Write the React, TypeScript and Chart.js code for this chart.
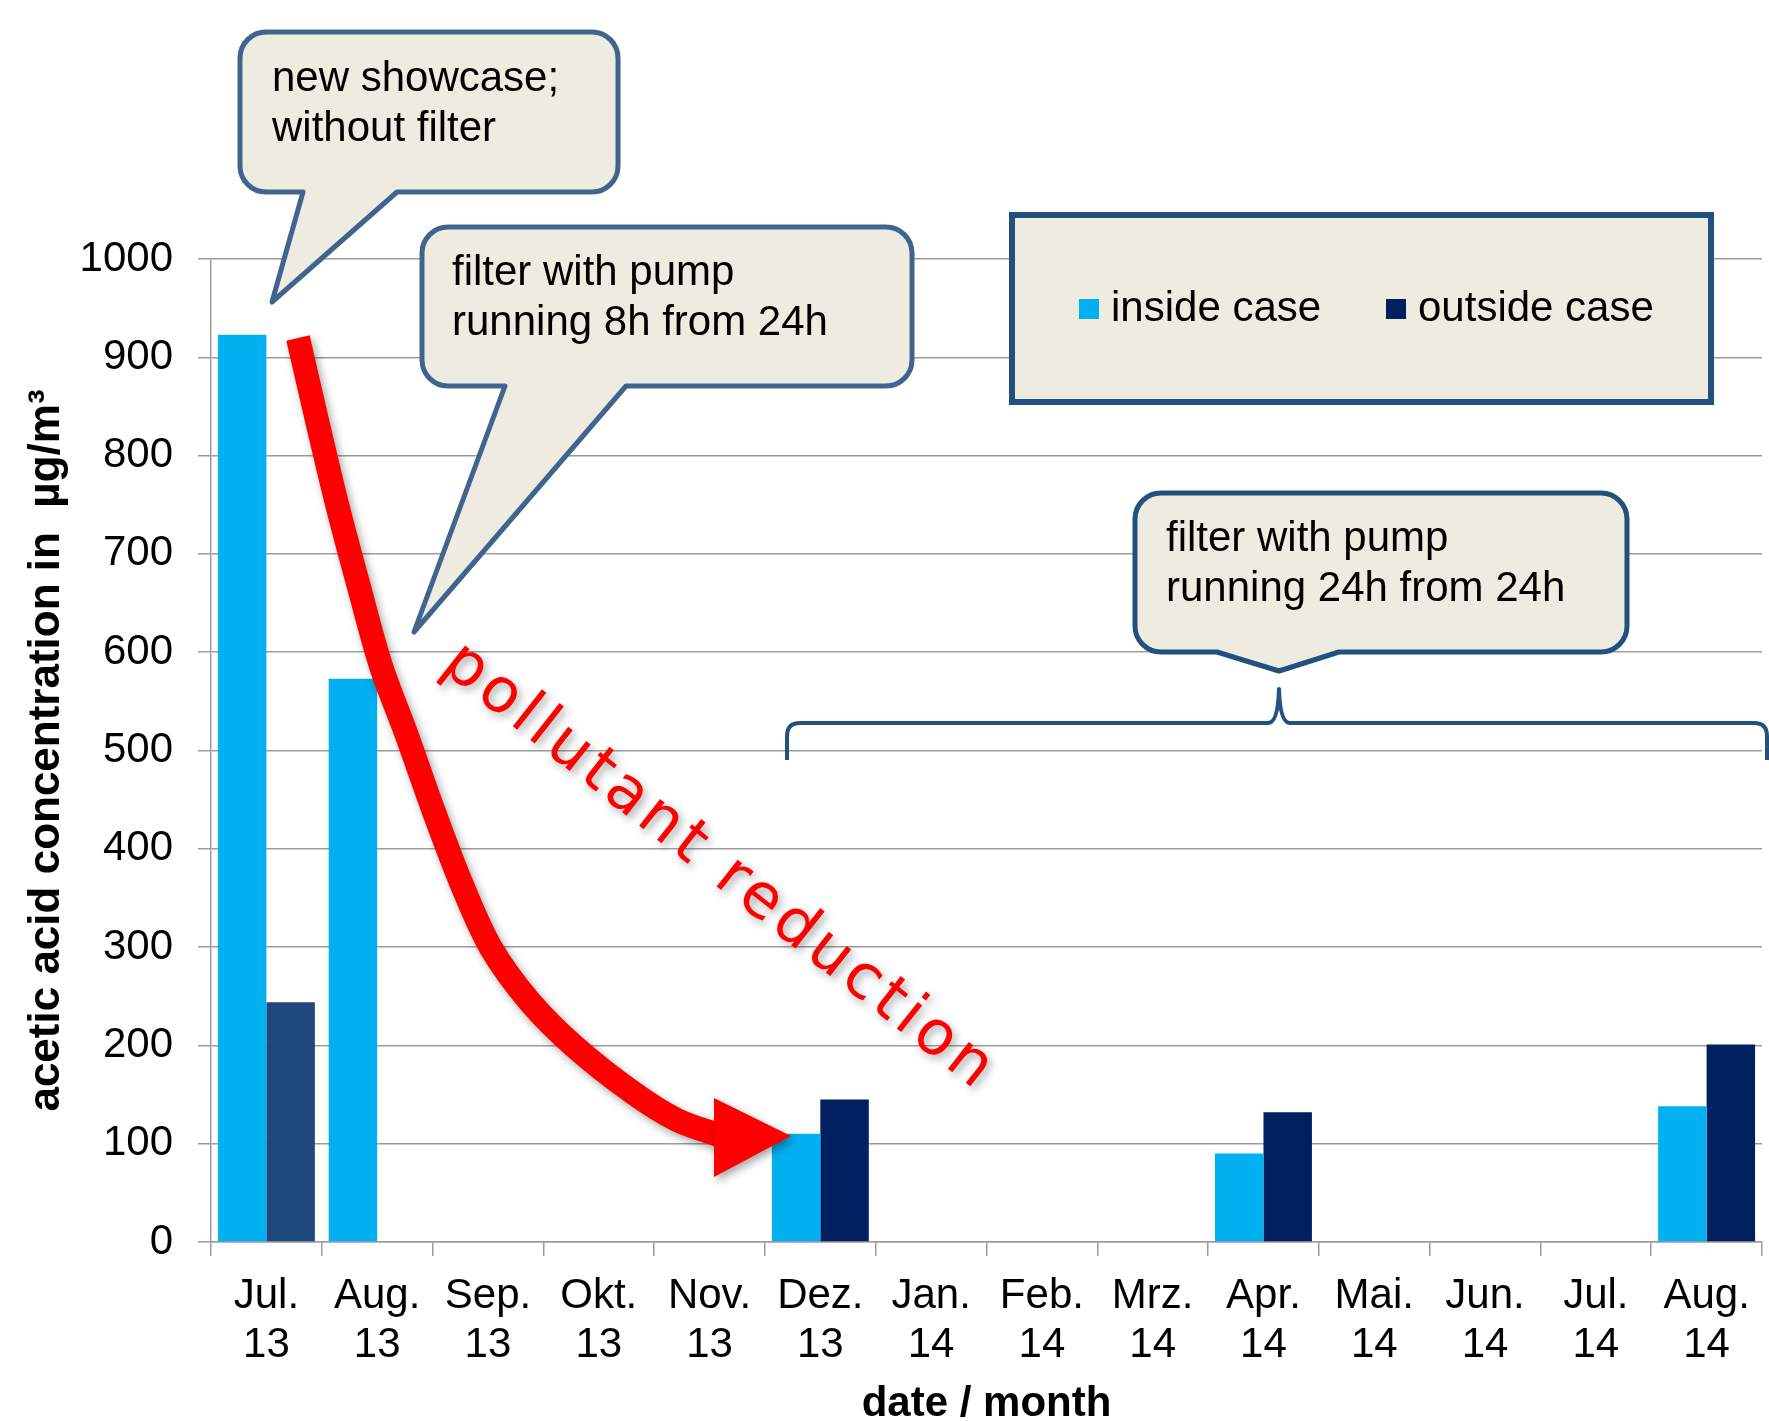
import React, { useEffect, useRef } from 'react';
import { Chart, registerables } from 'chart.js';

Chart.register(...registerables);

// ---------- data ----------
const monthLabels = ['Jul.', 'Aug.', 'Sep.', 'Okt.', 'Nov.', 'Dez.', 'Jan.', 'Feb.', 'Mrz.', 'Apr.', 'Mai.', 'Jun.', 'Jul.', 'Aug.'];
const yearLabels = ['13', '13', '13', '13', '13', '13', '14', '14', '14', '14', '14', '14', '14', '14'];
const insideCase = [923, 573, null, null, null, 110, null, null, null, 90, null, null, null, 138];
const outsideCase = [244, null, null, null, null, 145, null, null, null, 132, null, null, null, 201];
const seriesNames = ['inside case', 'outside case'];
const yAxisTitle = 'acetic acid concentration in  µg/m³';
const xAxisTitle = 'date / month';
const callout1Text = ['new showcase;', 'without filter'];
const callout2Text = ['filter with pump', 'running 8h from 24h'];
const callout3Text = ['filter with pump', 'running 24h from 24h'];
const arrowText = 'pollutant reduction';

// ---------- styles ----------
const FONT = '"Liberation Sans", Arial, sans-serif';
const INSIDE_COLOR = '#00b0f0';
const OUTSIDE_COLOR = '#002060';
const OUTSIDE_FIRST_COLOR = '#1f497d';
const GRID_COLOR = '#9c9c9c';
const BOX_FILL = '#eeece1';
const BOX_STROKE_LIGHT = '#41648f';
const BOX_STROKE_DARK = '#22507f';

// hand-drawn red arrow guide path (canvas pixels)
const ARROW_PATH: number[][] = [
  [298, 338], [319, 429], [338, 508], [359, 587], [381, 666], [406, 733], [434, 812],
  [462, 885], [491, 948], [530, 1002], [575, 1047], [632, 1092], [677, 1120], [722, 1136],
];

function calloutPath(ctx: CanvasRenderingContext2D, x0: number, y0: number, x1: number, y1: number, r: number,
  bx1: number, bx2: number, tx: number, ty: number) {
  ctx.beginPath();
  ctx.moveTo(x0 + r, y0);
  ctx.lineTo(x1 - r, y0);
  ctx.arcTo(x1, y0, x1, y0 + r, r);
  ctx.lineTo(x1, y1 - r);
  ctx.arcTo(x1, y1, x1 - r, y1, r);
  ctx.lineTo(bx2, y1);
  ctx.lineTo(tx, ty);
  ctx.lineTo(bx1, y1);
  ctx.lineTo(x0 + r, y1);
  ctx.arcTo(x0, y1, x0, y1 - r, r);
  ctx.lineTo(x0, y0 + r);
  ctx.arcTo(x0, y0, x0 + r, y0, r);
  ctx.closePath();
}

function drawCallout(ctx: CanvasRenderingContext2D, box: number[], tail: number[], stroke: string,
  lines: string[], tx: number, baselines: number[]) {
  const [x0, y0, x1, y1, r] = box;
  const [bx1, bx2, px, py] = tail;
  ctx.save();
  calloutPath(ctx, x0, y0, x1, y1, r, bx1, bx2, px, py);
  ctx.fillStyle = BOX_FILL;
  ctx.fill();
  ctx.lineWidth = 5;
  ctx.lineJoin = 'round';
  ctx.strokeStyle = stroke;
  ctx.stroke();
  ctx.fillStyle = '#000';
  ctx.font = `42px ${FONT}`;
  ctx.textAlign = 'left';
  ctx.textBaseline = 'alphabetic';
  lines.forEach((l, i) => ctx.fillText(l, tx, baselines[i]));
  ctx.restore();
}

function smoothPath(ctx: CanvasRenderingContext2D, pts: number[][]) {
  ctx.beginPath();
  ctx.moveTo(pts[0][0], pts[0][1]);
  for (let i = 0; i < pts.length - 1; i++) {
    const p0 = pts[Math.max(0, i - 1)];
    const p1 = pts[i];
    const p2 = pts[i + 1];
    const p3 = pts[Math.min(pts.length - 1, i + 2)];
    const c1x = p1[0] + (p2[0] - p0[0]) / 6;
    const c1y = p1[1] + (p2[1] - p0[1]) / 6;
    const c2x = p2[0] - (p3[0] - p1[0]) / 6;
    const c2y = p2[1] - (p3[1] - p1[1]) / 6;
    ctx.bezierCurveTo(c1x, c1y, c2x, c2y, p2[0], p2[1]);
  }
}

const annotationPlugin = {
  id: 'annotations',
  afterDraw(chart: any) {
    const ctx: CanvasRenderingContext2D = chart.ctx;

    // callouts
    drawCallout(ctx, [240, 32, 618, 192, 26], [303, 397, 272, 302], BOX_STROKE_LIGHT, callout1Text, 272, [91, 141]);
    drawCallout(ctx, [422, 227, 912, 386, 26], [505, 626, 414, 632], BOX_STROKE_LIGHT, callout2Text, 452, [285, 335]);
    drawCallout(ctx, [1135, 493, 1627, 652, 26], [1217, 1339, 1279, 671], BOX_STROKE_DARK, callout3Text, 1166, [551, 601]);

    // brace
    ctx.save();
    ctx.strokeStyle = BOX_STROKE_DARK;
    ctx.lineWidth = 4;
    ctx.lineJoin = 'round';
    ctx.beginPath();
    ctx.moveTo(787, 760);
    ctx.lineTo(787, 736);
    ctx.quadraticCurveTo(787, 723, 800, 723);
    ctx.lineTo(1268, 723);
    ctx.quadraticCurveTo(1278, 723, 1279, 689);
    ctx.quadraticCurveTo(1280, 723, 1290, 723);
    ctx.lineTo(1754, 723);
    ctx.quadraticCurveTo(1767, 723, 1767, 736);
    ctx.lineTo(1767, 760);
    ctx.stroke();
    ctx.restore();

    // legend box
    ctx.save();
    ctx.fillStyle = BOX_FILL;
    ctx.fillRect(1012, 215, 699, 187);
    ctx.strokeStyle = BOX_STROKE_DARK;
    ctx.lineWidth = 6;
    ctx.strokeRect(1012, 215, 699, 187);
    const legendColors = [INSIDE_COLOR, OUTSIDE_COLOR];
    const legendX = [1079, 1386];
    ctx.font = `42px ${FONT}`;
    ctx.textBaseline = 'alphabetic';
    chart.data.datasets.forEach((ds: any, i: number) => {
      ctx.fillStyle = legendColors[i];
      ctx.fillRect(legendX[i], 299, 20, 20);
      ctx.fillStyle = '#000';
      ctx.fillText(ds.label, legendX[i] + 32, 321);
    });
    ctx.restore();

    // red arrow
    ctx.save();
    ctx.shadowColor = 'rgba(0,0,0,0.35)';
    ctx.shadowBlur = 8;
    ctx.shadowOffsetX = 3;
    ctx.shadowOffsetY = 4;
    ctx.strokeStyle = '#ff0000';
    ctx.fillStyle = '#ff0000';
    ctx.lineWidth = 24;
    ctx.lineCap = 'butt';
    ctx.lineJoin = 'round';
    smoothPath(ctx, ARROW_PATH);
    ctx.stroke();
    ctx.beginPath();
    ctx.moveTo(714, 1098);
    ctx.lineTo(791, 1136);
    ctx.lineTo(714, 1177);
    ctx.closePath();
    ctx.fill();

    // red text
    ctx.translate(719, 868);
    ctx.rotate((38.2 * Math.PI) / 180);
    ctx.font = `62px "DejaVu Sans", sans-serif`;
    (ctx as any).letterSpacing = '5px';
    ctx.textAlign = 'center';
    ctx.textBaseline = 'middle';
    ctx.fillText(arrowText, 0, 0);
    ctx.restore();
  },
};

export default function App() {
  const canvasRef = useRef<HTMLCanvasElement | null>(null);

  useEffect(() => {
    if (!canvasRef.current) return;
    const labels = monthLabels.map((m, i) => [m, yearLabels[i]]);
    const outsideColors = outsideCase.map((_, i) => (i === 0 ? OUTSIDE_FIRST_COLOR : OUTSIDE_COLOR));
    const chart = new Chart(canvasRef.current, {
      type: 'bar',
      data: {
        labels,
        datasets: [
          {
            label: seriesNames[0],
            data: insideCase,
            backgroundColor: INSIDE_COLOR,
            categoryPercentage: 0.875,
            barPercentage: 1,
          },
          {
            label: seriesNames[1],
            data: outsideCase,
            backgroundColor: outsideColors,
            categoryPercentage: 0.875,
            barPercentage: 1,
          },
        ],
      },
      options: {
        responsive: false,
        animation: false,
        devicePixelRatio: 1,
        layout: { padding: { left: 0, top: 259, right: 7, bottom: 0 } },
        plugins: {
          legend: { display: false },
          tooltip: { enabled: false },
        },
        scales: {
          x: {
            grid: {
              display: true,
              drawOnChartArea: false,
              drawTicks: true,
              tickLength: 14,
              color: GRID_COLOR,
              lineWidth: 1.5,
              offset: true,
            },
            border: { display: true, color: GRID_COLOR, width: 1.5 },
            ticks: {
              color: '#000',
              font: { family: FONT, size: 42, lineHeight: 1.17 },
              padding: 16,
              maxRotation: 0,
              autoSkip: false,
            },
            title: {
              display: true,
              text: xAxisTitle,
              color: '#000',
              font: { family: FONT, size: 42, weight: 'bold', lineHeight: 1 },
              padding: { top: 0, bottom: -4 },
            },
            afterFit: (s: any) => {
              s.height = 179;
            },
          },
          y: {
            min: 0,
            max: 1000,
            ticks: {
              stepSize: 100,
              color: '#000',
              font: { family: FONT, size: 42 },
              padding: 25,
              callback: (v: any) => String(v),
            },
            grid: { color: GRID_COLOR, lineWidth: 1.5, tickLength: 13 },
            border: { display: true, color: GRID_COLOR, width: 1.5 },
            title: {
              display: true,
              text: yAxisTitle,
              color: '#000',
              font: { family: FONT, size: 44, weight: 'bold' },
              padding: { top: 20, bottom: 0 },
            },
            afterFit: (s: any) => {
              s.width = 211;
            },
          },
        },
      } as any,
      plugins: [annotationPlugin],
    });
    return () => chart.destroy();
  }, []);

  return (
    <div style={{ position: 'fixed', left: 0, top: 0, width: 1769, height: 1421, overflow: 'hidden', background: '#fff' }}>
      <canvas ref={canvasRef} width={1769} height={1421} style={{ display: 'block', width: 1769, height: 1421 }} />
    </div>
  );
}
